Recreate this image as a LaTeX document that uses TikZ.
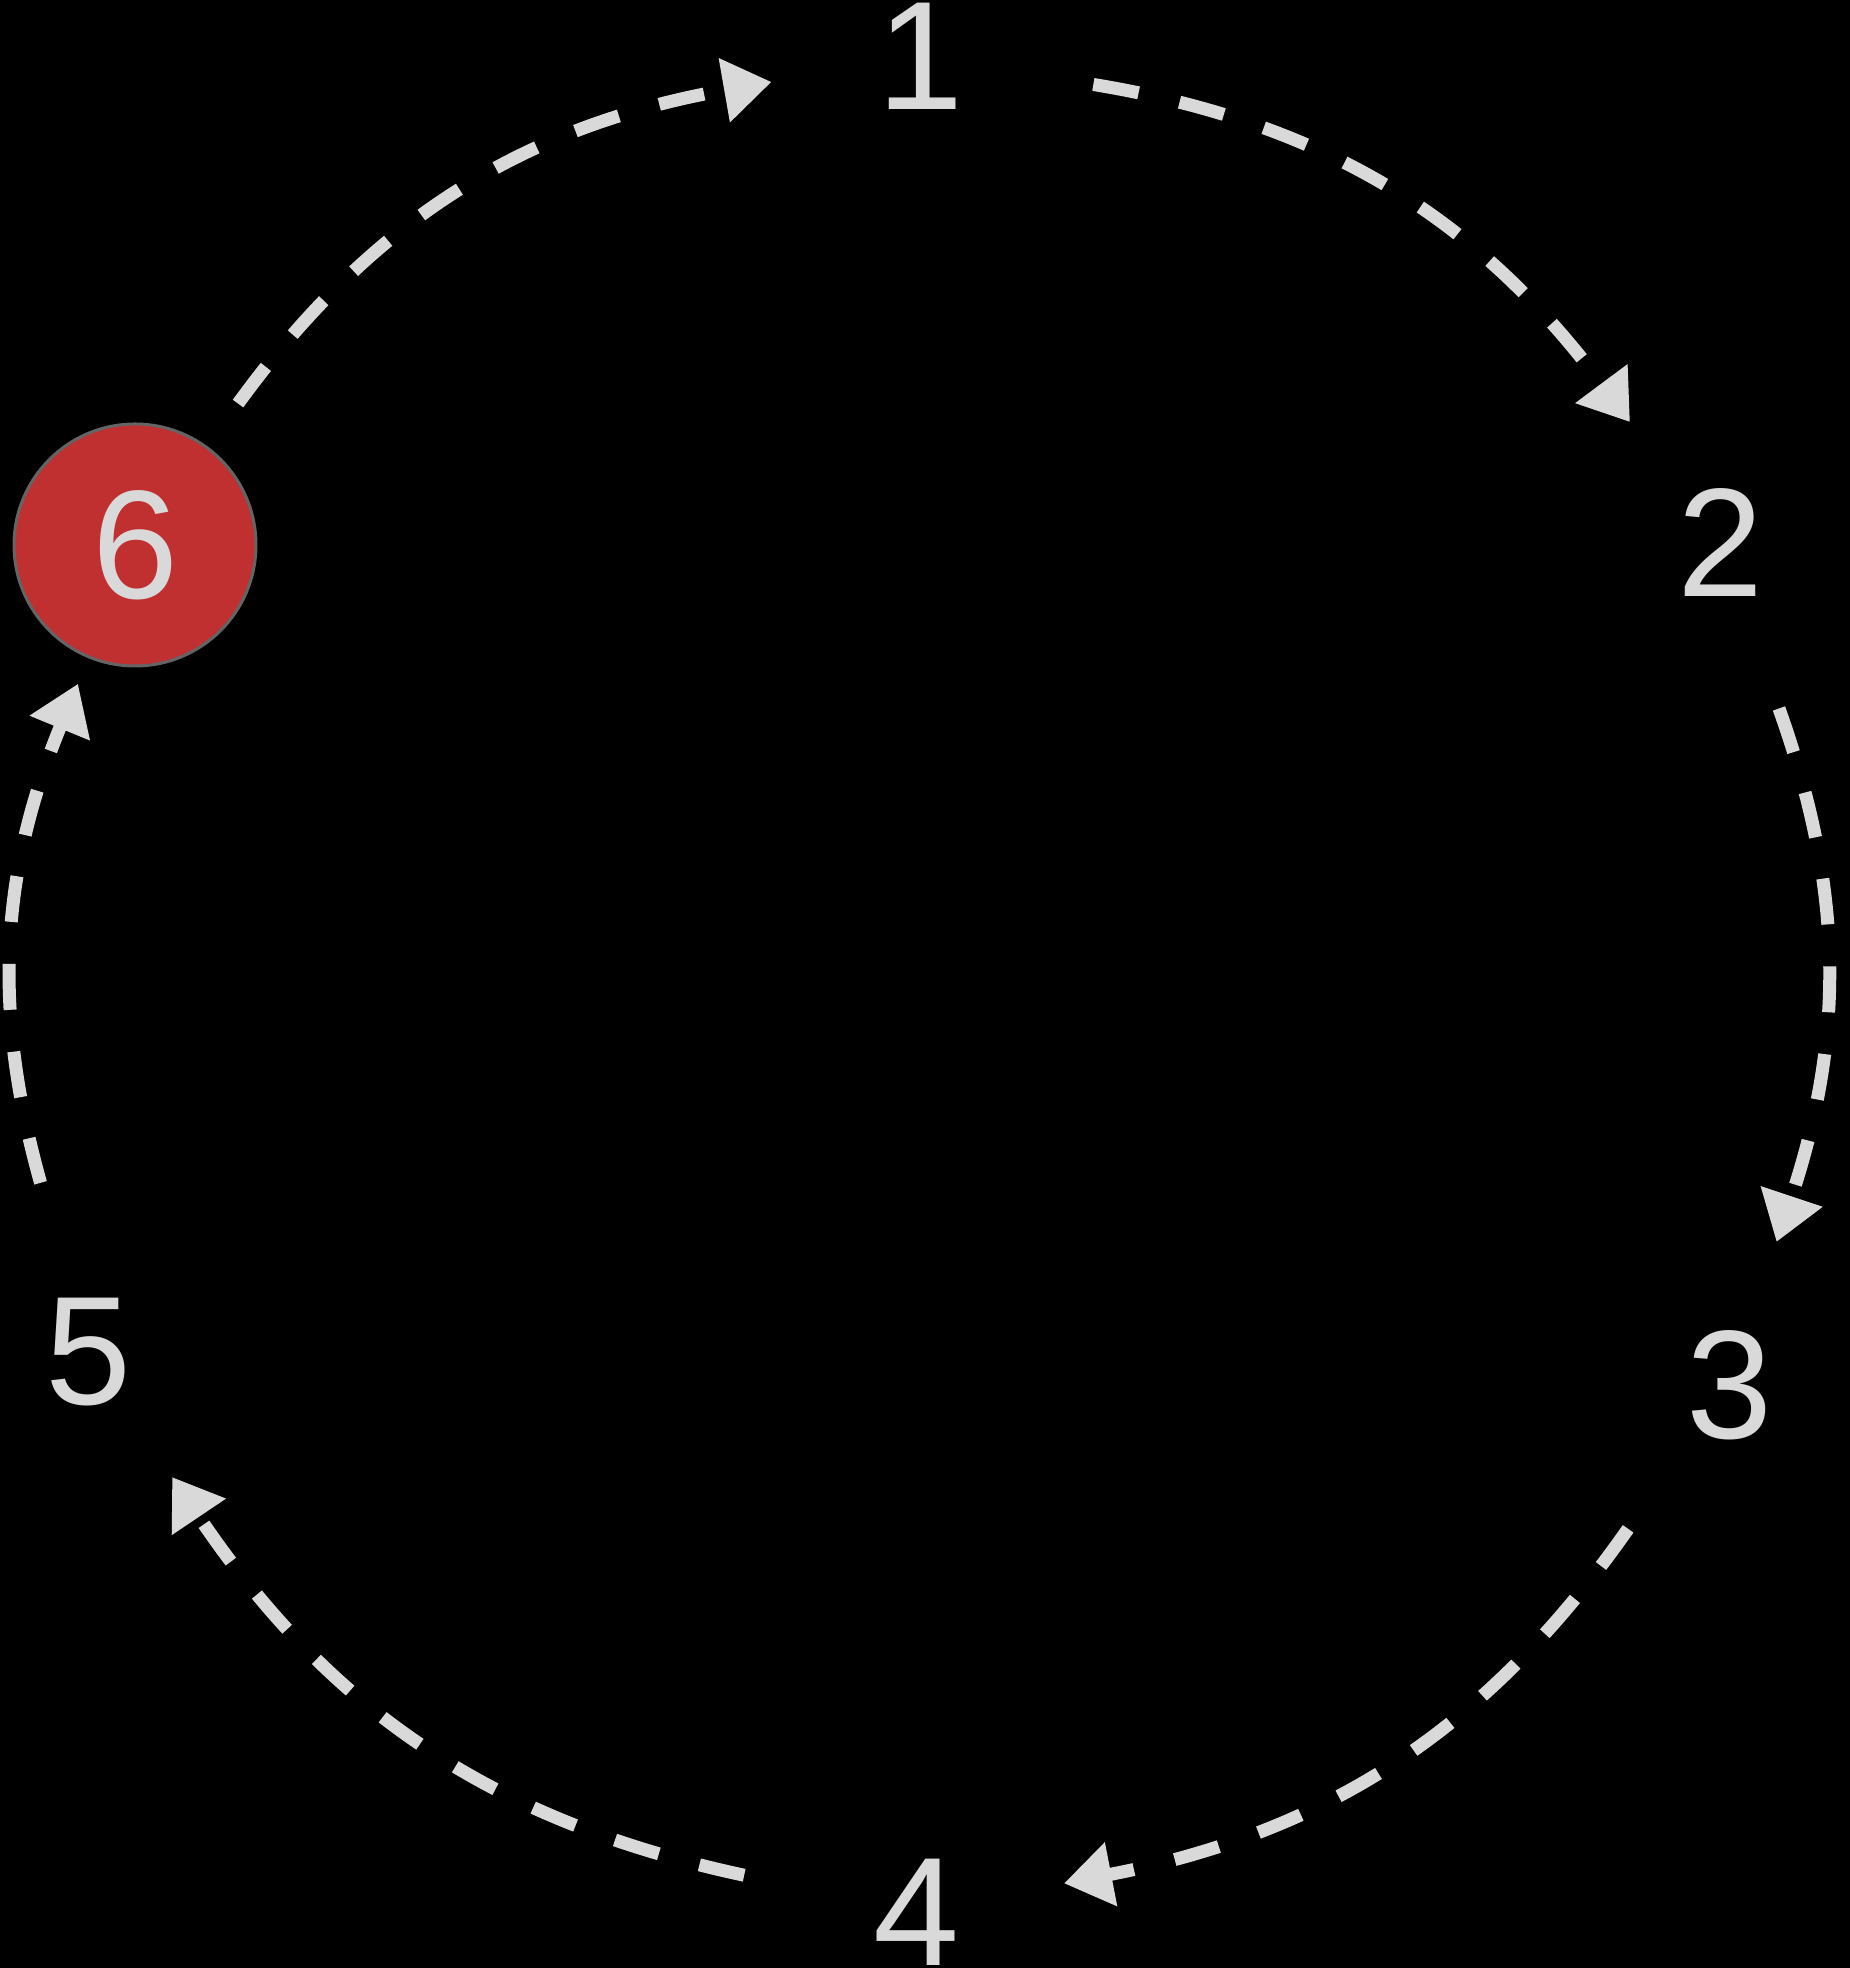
\documentclass[tikz,border=0pt]{standalone}
\usepackage{fontspec}
\setmainfont{Liberation Sans}
\usetikzlibrary{arrows.meta}
\definecolor{ringgray}{RGB}{217,217,217}
\definecolor{ringred}{RGB}{192,48,48}
\definecolor{ringedge}{RGB}{100,100,100}

\begin{document}
\begin{tikzpicture}[font=\fontsize{44}{50}\selectfont,
  stop/.style={circle,minimum size=3cm,inner sep=0pt,text=ringgray},
  here/.style={circle,minimum size=2.42cm,inner sep=0pt,outer sep=.29cm,
    fill=ringred,draw=ringedge,line width=.03cm,text=ringgray},
  flow/.style={draw=ringgray,line width=.13cm,dash pattern=on .46cm off .42cm,
    shorten <=.25cm,-{Triangle[length=.48cm,width=.62cm]}}]
  \fill[black] (0,0) rectangle (18.5,19.68);
  \useasboundingbox (0,0) rectangle (18.5,19.68);
  % the six stops
  \node[stop] (n1) at (9.20,19.12) {1};
  \node[stop] (n2) at (17.20,14.25) {2};
  \node[stop] (n3) at (17.29,5.83) {3};
  \node[stop] (n4) at (9.16,0.56) {4};
  \node[stop] (n5) at (0.88,6.16) {5};
  \node[here] (n6) at (1.35,14.23) {6};
  % the ring
  \foreach \src/\dst/\bend in {n1/n2/22,n2/n3/19,n3/n4/22,n4/n5/22,n5/n6/19,n6/n1/22}
    \draw[flow] (\src) to[bend left=\bend] (\dst);
\end{tikzpicture}
\end{document}
